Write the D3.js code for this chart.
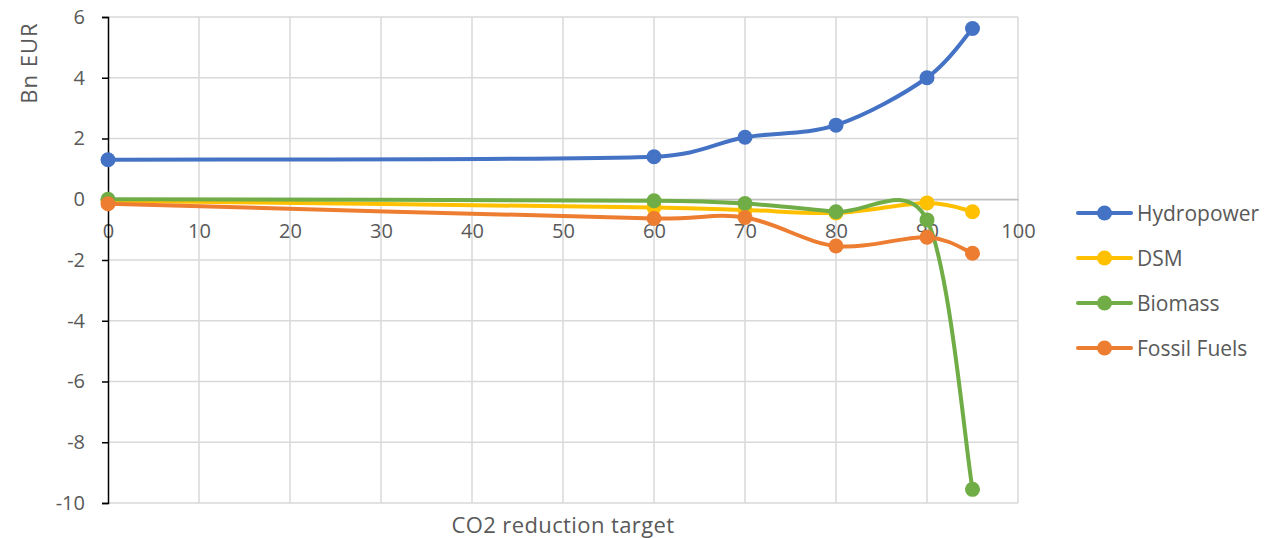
<!DOCTYPE html>
<html>
<head>
<meta charset="utf-8">
<script src="https://cdn.jsdelivr.net/npm/d3@7"></script>
<style>
  html, body { margin: 0; padding: 0; background: #ffffff; }
  svg { display: block; font-family: "Open Sans", "Noto Sans", sans-serif; }
</style>
</head>
<body>
<svg id="chart" width="1281" height="538"></svg>
<script>
// CO2 reduction targets (%) and cost change per technology (Bn EUR)
const targets = [0, 60, 70, 80, 90, 95];
const hydropower = [1.3, 1.4, 2.04, 2.44, 4.0, 5.62];
const dsm = [-0.05, -0.27, -0.35, -0.45, -0.12, -0.41];
const biomass = [0.0, -0.05, -0.14, -0.41, -0.68, -9.55];
const fossilFuels = [-0.15, -0.63, -0.6, -1.54, -1.25, -1.78];

const seriesNames = ["Hydropower", "DSM", "Biomass", "Fossil Fuels"];
const seriesValues = [hydropower, dsm, biomass, fossilFuels];
const seriesColors = ["#4472C4", "#FFC000", "#70AD47", "#ED7D31"];

const xTicks = d3.range(0, 101, 10);
const yTicks = d3.range(-10, 7, 2);

const svg = d3.select("#chart");
const margin = { left: 108, right: 1018, top: 17, bottom: 503 };

const x = d3.scaleLinear().domain([0, 100]).range([margin.left, margin.right]);
const y = d3.scaleLinear().domain([-10, 6]).range([margin.bottom, margin.top]);

const textColor = "#595959";
const gridColor = "#d9d9d9";

// gridlines
const grid = svg.append("g");
grid.selectAll("line.h").data(yTicks).enter().append("line")
  .attr("x1", x(0)).attr("x2", x(100))
  .attr("y1", d => y(d)).attr("y2", d => y(d))
  .attr("stroke", gridColor).attr("stroke-width", 1.5);
grid.selectAll("line.v").data(xTicks.filter(d => d > 0)).enter().append("line")
  .attr("x1", d => x(d)).attr("x2", d => x(d))
  .attr("y1", y(6)).attr("y2", y(-10))
  .attr("stroke", gridColor).attr("stroke-width", 1.5);

// horizontal axis crosses at zero
const xAxis = svg.append("g")
  .attr("transform", `translate(0,${y(0)})`)
  .call(d3.axisBottom(x).tickValues(xTicks).tickSize(0).tickFormat(d => String(d)));
xAxis.select(".domain").attr("stroke", "#bfbfbf").attr("stroke-width", 1.5);
xAxis.selectAll("text")
  .attr("y", 38.5).attr("dy", "0")
  .attr("fill", textColor).style("font-size", "20px")
  .style("font-family", "'Open Sans', sans-serif");

// vertical axis
const yAxis = svg.append("g")
  .attr("transform", `translate(${x(0)},0)`)
  .call(d3.axisLeft(y).tickValues(yTicks).tickSize(6).tickPadding(17)
    .tickFormat(d => String(d)));
yAxis.select(".domain").attr("stroke", "#000").attr("stroke-width", 1.5);
yAxis.selectAll(".tick line").attr("stroke", "#000").attr("stroke-width", 1.5);
yAxis.selectAll("text").attr("fill", textColor).style("font-size", "20px")
  .style("font-family", "'Open Sans', sans-serif");

// axis titles
svg.append("text")
  .attr("transform", `translate(37,63) rotate(-90)`)
  .attr("text-anchor", "middle")
  .attr("fill", textColor).style("font-size", "22px")
  .style("letter-spacing", "1px")
  .text("Bn EUR");
svg.append("text")
  .attr("x", (margin.left + margin.right) / 2).attr("y", 533)
  .attr("text-anchor", "middle")
  .attr("fill", textColor).style("font-size", "22px")
  .style("letter-spacing", "0.4px")
  .text("CO2 reduction target");

// smoothed path: Catmull-Rom style Bezier, control arms limited to half the adjacent segment
function smoothPath(pts) {
  const p = pts.map(d => [x(d[0]), y(d[1])]);
  const n = p.length;
  const dist = (a, b) => Math.hypot(b[0] - a[0], b[1] - a[1]);
  const tan = p.map((pt, i) => {
    const a = p[Math.max(0, i - 1)], b = p[Math.min(n - 1, i + 1)];
    return [(b[0] - a[0]) / 6, (b[1] - a[1]) / 6];
  });
  const arm = (t, limit) => {
    const len = Math.hypot(t[0], t[1]);
    const s = len > limit && len > 0 ? limit / len : 1;
    return [t[0] * s, t[1] * s];
  };
  const path = d3.path();
  path.moveTo(p[0][0], p[0][1]);
  for (let i = 0; i < n - 1; i++) {
    const seg = dist(p[i], p[i + 1]);
    const a = arm(tan[i], seg * 0.5);
    const b = arm(tan[i + 1], seg * 0.5);
    path.bezierCurveTo(
      p[i][0] + a[0], p[i][1] + a[1],
      p[i + 1][0] - b[0], p[i + 1][1] - b[1],
      p[i + 1][0], p[i + 1][1]);
  }
  return path.toString();
}

seriesValues.forEach((vals, i) => {
  const pts = targets.map((t, j) => [t, vals[j]]);
  const g = svg.append("g");
  g.append("path")
    .attr("d", smoothPath(pts)).attr("fill", "none")
    .attr("stroke", seriesColors[i]).attr("stroke-width", 4)
    .attr("stroke-linejoin", "round").attr("stroke-linecap", "round");
  g.selectAll("circle").data(pts).enter().append("circle")
    .attr("cx", d => x(d[0])).attr("cy", d => y(d[1]))
    .attr("r", 7.5).attr("fill", seriesColors[i]);
});

// legend
const legend = svg.append("g").attr("transform", "translate(1078,213)");
seriesNames.forEach((name, i) => {
  const row = legend.append("g").attr("transform", `translate(0,${i * 45})`);
  row.append("line").attr("x1", 0).attr("x2", 53).attr("y1", 0).attr("y2", 0)
    .attr("stroke", seriesColors[i]).attr("stroke-width", 4).attr("stroke-linecap", "round");
  row.append("circle").attr("cx", 26.5).attr("cy", 0).attr("r", 7.5).attr("fill", seriesColors[i]);
  row.append("text").attr("x", 59).attr("y", 0).attr("dy", "0.36em")
    .attr("fill", textColor).style("font-size", "21px").text(name);
});
</script>
</body>
</html>
